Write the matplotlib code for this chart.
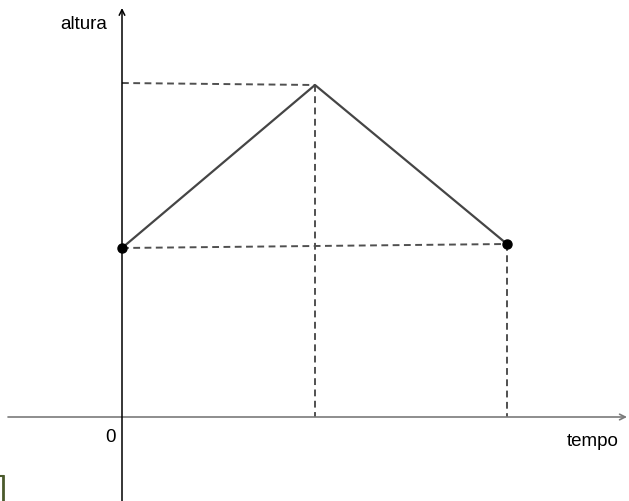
import matplotlib.pyplot as plt

# tempo / altura (unidades arbitrárias, origem no cruzamento dos eixos)
tempos = [0, 193, 385]
alturas = [169, 332, 173]
altura_guia_topo = 334

fig = plt.figure(figsize=(6.29, 5.01), dpi=100)
ax = fig.add_axes([0, 0, 1, 1])
ax.set_xlim(-122, 507)
ax.set_ylim(-84, 417)
ax.axis('off')

# eixos
ax.annotate('', xy=(505, 0), xytext=(-114, 0),
            arrowprops=dict(arrowstyle='->', color='#7a7a7a', lw=1.2,
                            shrinkA=0, shrinkB=0, mutation_scale=10))
ax.annotate('', xy=(0, 409), xytext=(0, -84),
            arrowprops=dict(arrowstyle='->', color='black', lw=1.1,
                            shrinkA=0, shrinkB=0, mutation_scale=10))

# linhas guia tracejadas
dash = dict(color='#505050', lw=1.4, linestyle=(0, (3.5, 2.3)))
ax.plot([0, tempos[1]], [altura_guia_topo, alturas[1]], **dash)
ax.plot([tempos[0], tempos[2]], [alturas[0], alturas[2]], **dash)
ax.plot([tempos[1], tempos[1]], [alturas[1], 0], **dash)
ax.plot([tempos[2], tempos[2]], [alturas[2], 0], **dash)

# trajetória
ax.plot(tempos, alturas, color='#454545', lw=1.6)
ax.plot([tempos[0], tempos[2]], [alturas[0], alturas[2]], 'o',
        color='black', markersize=6.5)

ax.text(-38, 393, 'altura', fontsize=13.5, family='Liberation Sans', ha='center', va='center')
ax.text(471, -24, 'tempo', fontsize=13.5, family='Liberation Sans', ha='center', va='center')
ax.text(-12, -20, '0', fontsize=13.5, family='Liberation Sans', ha='center', va='center')

# pequeno colchete no canto inferior esquerdo
fig.add_artist(plt.Line2D([0.005, 0.005], [0.0, 0.05], color='#4b5a2c', lw=2))
fig.add_artist(plt.Line2D([0.0, 0.005], [0.05, 0.05], color='#4b5a2c', lw=1.5))

plt.savefig('out.png', dpi=100)
